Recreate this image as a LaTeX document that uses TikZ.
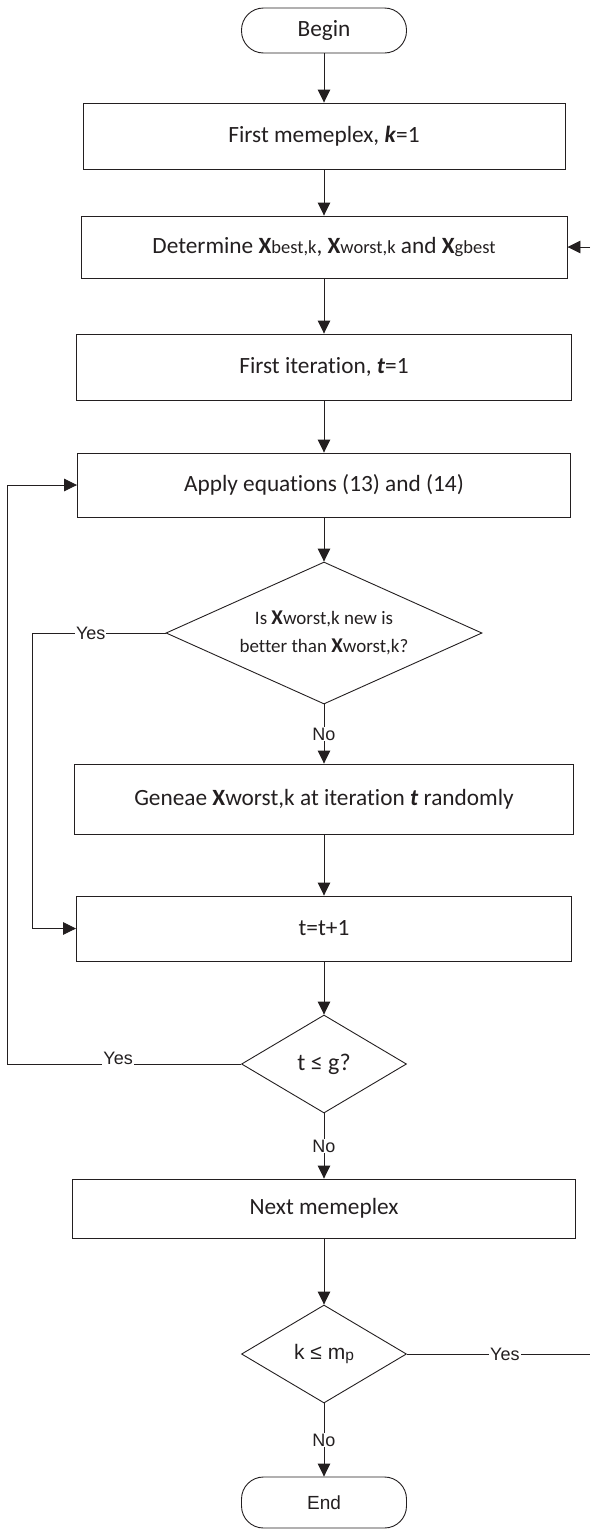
\documentclass[tikz,border=0pt]{standalone}
\usepackage{fontspec}
\setmainfont{Carlito}[Ligatures={NoCommon}]
\newfontfamily\arialfont{Liberation Sans}
\usetikzlibrary{shapes.geometric,arrows.meta}
\definecolor{ink}{HTML}{231F20}
% bold X followed by a smaller plain index
\newcommand{\bx}[1]{\textbf{X}{\fontsize{18.5}{18.5}\selectfont #1}}
\begin{document}
\begin{tikzpicture}[x=1pt,y=-1pt,
  every node/.style={text=ink},
  procbox/.style={draw=ink, line width=0.9pt, inner sep=0pt,
    font=\fontsize{23.3}{28}\selectfont},
  term/.style={draw=ink, line width=0.9pt, rounded corners=22pt,
    minimum width=165pt, inner sep=0pt},
  decision/.style={draw=ink, line width=0.9pt, diamond, inner sep=0pt, align=center},
  flow/.style={draw=ink, line width=0.9pt, -{Triangle[length=13pt,width=12.5pt]}},
  plain/.style={draw=ink, line width=0.9pt},
  lbl/.style={font=\arialfont\fontsize{18}{18}\selectfont, fill=white, inner sep=1pt},
]
\useasboundingbox (0,0) rectangle (590,1529);

% terminals
\node[term, minimum height=45pt, font=\fontsize{23.3}{28}\selectfont] (begin) at (324,30.5) {Begin};
\node[term, minimum height=51pt, font=\arialfont\fontsize{19}{19}\selectfont] (end) at (324,1502.5) {End};

% process boxes
\node[procbox, minimum width=482pt, minimum height=66pt] (fm) at (324,136)
  {First memeplex, \textbf{\textit{k}}=1};
\node[procbox, minimum width=486pt, minimum height=62pt] (det) at (324,247)
  {Determine \bx{best,k}, \bx{worst,k} and \bx{gbest}};
\node[procbox, minimum width=495pt, minimum height=66pt] (fi) at (324,367)
  {First iteration, \textbf{\textit{t}}=1};
\node[procbox, minimum width=493pt, minimum height=64pt] (apply) at (324,485)
  {Apply equations (13) and (14)};
\node[procbox, minimum width=499pt, minimum height=70pt] (gen) at (324,799)
  {Geneae \textbf{X}worst,k at iteration \textbf{\textit{t}} randomly};
\node[procbox, minimum width=495pt, minimum height=65pt] (tt) at (324,928.5)
  {t=t+1};
\node[procbox, minimum width=503pt, minimum height=59pt] (nm) at (324,1208.5)
  {Next memeplex};

% decisions
\node[decision, aspect=2.225, minimum width=316pt, minimum height=142pt,
  font=\fontsize{19}{28}\selectfont] (d1) at (324,633)
  {Is {\fontsize{21}{21}\selectfont\textbf{X}}worst,k new is\\better than {\fontsize{21}{21}\selectfont\textbf{X}}worst,k?};
\node[decision, aspect=1.684, minimum width=165pt, minimum height=98pt,
  font=\fontsize{24}{28}\selectfont] (d2) at (324,1064) {t ≤ g?};
\node[decision, aspect=1.684, minimum width=165pt, minimum height=98pt,
  font=\arialfont\fontsize{21}{24}\selectfont] (d3) at (324,1354)
  {k ≤ m\raisebox{-1pt}{\fontsize{15.5}{15.5}\selectfont p}};

% loop rails
\coordinate (inrail) at (32,0);
\coordinate (outrail) at (7,0);
\coordinate (edge) at (590,0);

% main flow
\draw[flow] (begin) -- (fm);
\draw[flow] (fm) -- (det);
\draw[flow] (det) -- (fi);
\draw[flow] (fi) -- (apply);
\draw[flow] (apply) -- (d1);
\draw[flow] (d1) -- node[lbl] {No} (gen);
\draw[flow] (gen) -- (tt);
\draw[flow] (tt) -- (d2);
\draw[flow] (d2) -- node[lbl] {No} (nm);
\draw[flow] (nm) -- (d3);
\draw[flow] (d3) -- node[lbl] {No} (end);

% inner loop: better candidate skips the random generation
\draw[flow] (d1.west) -- (d1.west -| inrail) |- (tt.west);
\path (d1.west) -- node[lbl, pos=0.56] {Yes} (d1.west -| inrail);

% outer loop: next iteration
\draw[flow] (d2.west) -- (d2.west -| outrail) |- (apply.west);
\path (d2.west) -- node[lbl, pos=0.525, anchor=base, inner ysep=1.5pt] {Yes} (d2.west -| outrail);

% memeplex loop leaves on the right and comes back to Determine
\draw[plain] (d3.east) -- (d3.east -| edge);
\path (d3.east) -- node[lbl, pos=0.535] {Yes} (d3.east -| edge);
\draw[flow] (det.east -| edge) -- (det.east);
\end{tikzpicture}
\end{document}
